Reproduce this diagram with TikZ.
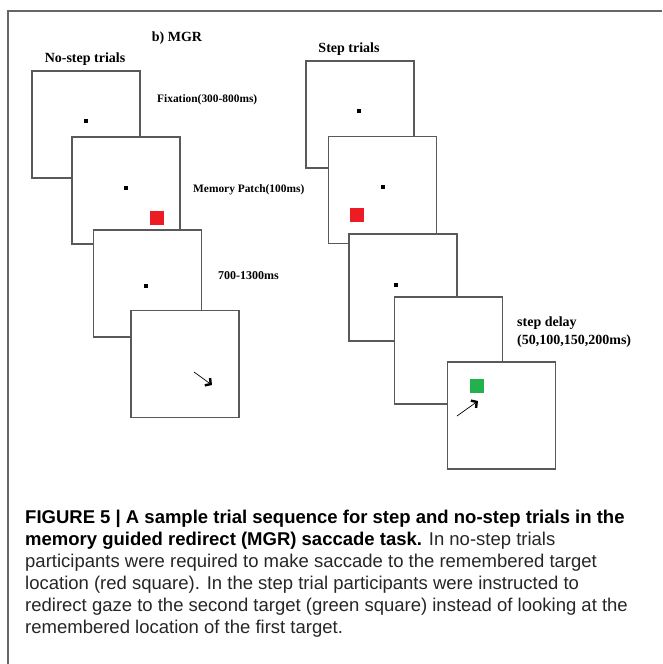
\documentclass[tikz,border=0pt]{standalone}
\usepackage{fontspec}
\setmainfont{Liberation Serif}
\newfontfamily\capfont{Liberation Sans}
\usepackage{tikz}
\usetikzlibrary{positioning,arrows.meta}

\tikzset{
  screen/.style={draw=black!65, line width=1.2pt, fill=white,
    minimum width=108pt, minimum height=107pt, inner sep=0pt},
  fixdot/.style={fill=black, minimum width=3.5pt, minimum height=4.5pt, inner sep=0pt},
  patch/.style={minimum size=14pt, inner sep=0pt},
  lbl/.style={font=\bfseries\fontsize{11.4}{14}\selectfont, anchor=west, inner sep=0pt},
  head/.style={font=\bfseries\fontsize{14}{16}\selectfont, inner sep=0pt},
  gaze/.style={-{Straight Barb[length=4pt,width=9pt,line width=2.4pt]}, line width=0.7pt}
}

\begin{document}
\begin{tikzpicture}[x=1pt,y=-1pt,on grid]
\useasboundingbox (0,0) rectangle (662,664);
\draw[black!60, line width=1.2pt] (8,664) -- (8,11) -- (662,11);

\node[head] (mgr) at (177,38) {b) MGR};
\node[head] (nostep) at (85,59) {No-step trials};
\node[head] (step) at (349,49) {Step trials};

% no-step trials
\node[screen] (nostep_1) at (86,124.5) {};
\node[fixdot] (nostep_1_dot) at (86,121) {};
\node[screen] (nostep_2) [below right=66pt and 40pt of nostep_1] {};
\node[fixdot] (nostep_2_dot) at (126,188) {};
\node[patch, fill={rgb,255:red,237;green,28;blue,36}] (nostep_red) at (157,218) {};
\node[screen] (nostep_3) [below right=93pt and 21.5pt of nostep_2] {};
\node[fixdot] (nostep_3_dot) at (146,286) {};
\node[screen] (nostep_4) [below right=80.5pt and 37.5pt of nostep_3] {};
\coordinate (nostep_from) at (194,372);
\coordinate (nostep_to) at (212,385);
\draw[gaze] (nostep_from) -- (nostep_to);

\node[lbl] (fix_lbl) at (157,100) {Fixation(300-800ms)};
\node[lbl] (mem_lbl) at (193,190) {Memory Patch(100ms)};
\node[lbl, font=\bfseries\fontsize{12}{14}\selectfont] (delay_lbl) at (218,276) {700-1300ms};

% step trials
\node[screen] (step_1) at (360,114.5) {};
\node[fixdot] (step_1_dot) at (359,111) {};
\node[screen] (step_2) [below right=75.5pt and 22.5pt of step_1] {};
\node[fixdot] (step_2_dot) at (383,187) {};
\node[patch, fill={rgb,255:red,237;green,28;blue,36}] (step_red) at (357,215) {};
\node[screen] (step_3) [below right=97.5pt and 20.5pt of step_2] {};
\node[fixdot] (step_3_dot) at (396,285) {};
\node[screen] (step_4) [below right=63pt and 45.5pt of step_3] {};
\node[screen] (step_5) [below right=65pt and 53pt of step_4] {};
\node[patch, fill={rgb,255:red,34;green,177;blue,76}] (step_green) at (477,386) {};
\coordinate (step_from) at (457,416);
\coordinate (step_to) at (478,401);
\draw[gaze] (step_from) -- (step_to);

\node[lbl, font=\bfseries\fontsize{14}{16}\selectfont] (step_lbl) at (517,323) {step delay};
\node[lbl, font=\bfseries\fontsize{14}{16}\selectfont] (stepms_lbl) at (517,341) {(50,100,150,200ms)};

% caption
\node[anchor=base west, align=left, inner sep=0pt, text=black!85,
  font=\capfont\fontsize{18.5}{22}\selectfont] (caption) at (25,633)
  {\textbf{\color{black}FIGURE 5 | A sample trial sequence for step and no-step trials in the}\\
   \textbf{\color{black}memory guided redirect (MGR) saccade task.} In no-step trials\\
   participants were required to make saccade to the remembered target\\
   location (red square). In the step trial participants were instructed to\\
   redirect gaze to the second target (green square) instead of looking at the\\
   remembered location of the first target.};
\end{tikzpicture}
\end{document}
